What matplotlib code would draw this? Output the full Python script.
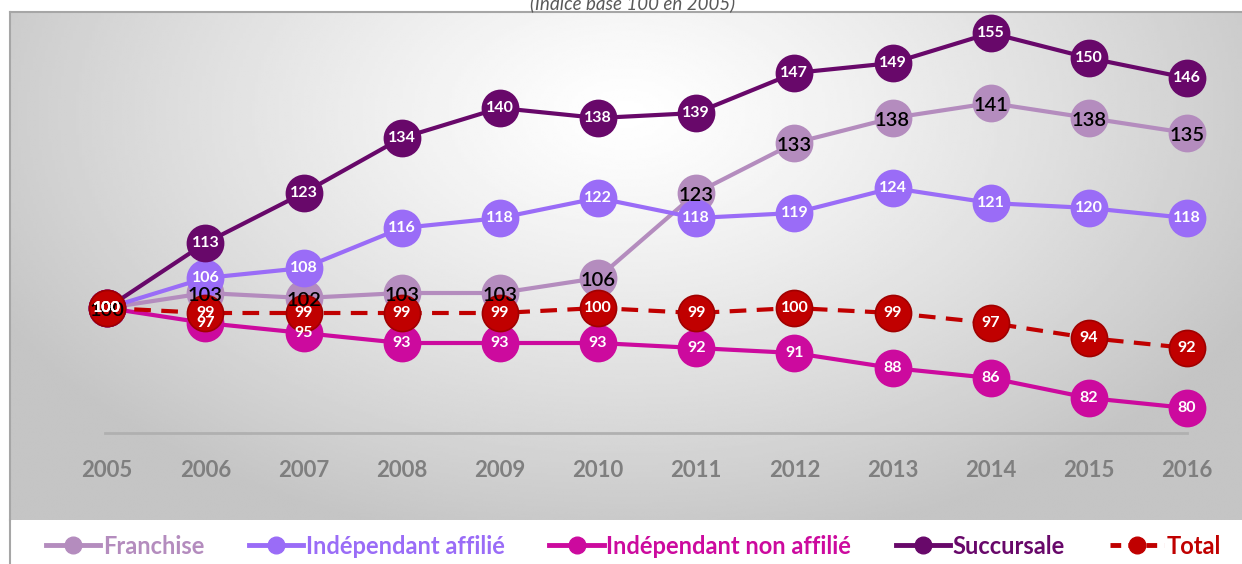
import numpy as np
import matplotlib
matplotlib.use('Agg')
import matplotlib.pyplot as plt
from matplotlib.lines import Line2D

years = [2005, 2006, 2007, 2008, 2009, 2010, 2011, 2012, 2013, 2014, 2015, 2016]
franchise = [100, 103, 102, 103, 103, 106, 123, 133, 138, 141, 138, 135]
affilie = [100, 106, 108, 116, 118, 122, 118, 119, 124, 121, 120, 118]
non_affilie = [100, 97, 95, 93, 93, 93, 92, 91, 88, 86, 82, 80]
succursale = [100, 113, 123, 134, 140, 138, 139, 147, 149, 155, 150, 146]
total = [100, 99, 99, 99, 99, 100, 99, 100, 99, 97, 94, 92]

series_names = ['Franchise', 'Indépendant affilié', 'Indépendant non affilié', 'Succursale', 'Total']
series_values = [franchise, affilie, non_affilie, succursale, total]
colors = ['#b48cbe', '#9a6cf7', '#cc0a9e', '#68086a', '#c00000']

plt.rcParams['font.family'] = ['Lato', 'DejaVu Sans']

W, H = 1242, 564
fig = plt.figure(figsize=(W / 100, H / 100), dpi=100, facecolor='white')
ax = fig.add_axes([10 / W, 44 / H, 1232 / W, 508 / H])
ax.set_xlim(2004.01, 2016.56)
ax.set_ylim(57.6, 159.2)

# radial grey background
gx, gy = np.meshgrid(np.linspace(0, 1, 400), np.linspace(0, 1, 300))
r = np.sqrt(((gx - 0.5) / 0.6) ** 2 + ((gy - 0.8) / 0.9) ** 2)
shade = np.clip(1.0 - 0.24 * r ** 1.2, 0.77, 1.0)
ax.imshow(shade, extent=[0, 1, 0, 1], transform=ax.transAxes, origin='lower',
          cmap='gray', vmin=0, vmax=1, aspect='auto', zorder=0, interpolation='bilinear')

for s in ['right', 'bottom']:
    ax.spines[s].set_visible(False)
for s in ['top', 'left']:
    ax.spines[s].set_color('#a6a6a6')
    ax.spines[s].set_linewidth(1.5)
ax.set_xticks([])
ax.set_yticks([])

# axis baseline and year labels
ax.plot([years[0] - 0.02, years[-1]], [75, 75], color='#b0b0b0', lw=2, zorder=1)
for yr in years:
    ax.text(yr, 67.5, str(yr), ha='center', va='center', fontsize=16,
            fontweight='bold', color='#7f7f7f')

for i, (name, vals, c) in enumerate(zip(series_names, series_values, colors)):
    ls = '--' if name == 'Total' else '-'
    ec = '#a00000' if name == 'Total' else c
    ax.plot(years, vals, color=c, lw=3, ls=ls, marker='o', markersize=26,
            markerfacecolor=c, markeredgecolor=ec, markeredgewidth=1.2,
            zorder=2 + i, dashes=(4, 2.5) if name == 'Total' else (None, None))

for i, (name, vals, c) in enumerate(zip(series_names, series_values, colors)):
    for yr, v in zip(years, vals):
        if name == 'Franchise':
            ax.text(yr, v - 0.5, str(v), ha='center', va='center', fontsize=14.5,
                    fontweight='semibold', color='black', zorder=10)
        else:
            ax.text(yr, v, str(v), ha='center', va='center', fontsize=11.5,
                    fontweight='bold', color='white', zorder=10)

fig.text(633 / W, 1 - 3 / H, '(Indice base 100 en 2005)', ha='center', va='center',
         fontsize=13.5, style='italic', color='#595959')

# legend band
handles = []
for name, c in zip(series_names, colors):
    ls = '--' if name == 'Total' else '-'
    handles.append(Line2D([0], [0], color=c, lw=3.5, ls=ls, marker='o', markersize=12,
                          markerfacecolor=c, markeredgecolor=c,
                          dashes=(2.2, 1.5) if name == 'Total' else (None, None)))
leg = fig.legend(handles, series_names, loc='center', bbox_to_anchor=(0.51, 1 - 546 / H),
                 ncol=5, frameon=False, handlelength=2.3, handletextpad=0.1,
                 columnspacing=1.9, prop={'weight': 'bold', 'size': 17})
for txt, c in zip(leg.get_texts(), colors):
    txt.set_color(c)
fig.add_artist(Line2D([10 / W, 10 / W], [0, 44 / H], color='#a6a6a6', lw=1.5))

fig.savefig('out.png', dpi=100, facecolor='white')
